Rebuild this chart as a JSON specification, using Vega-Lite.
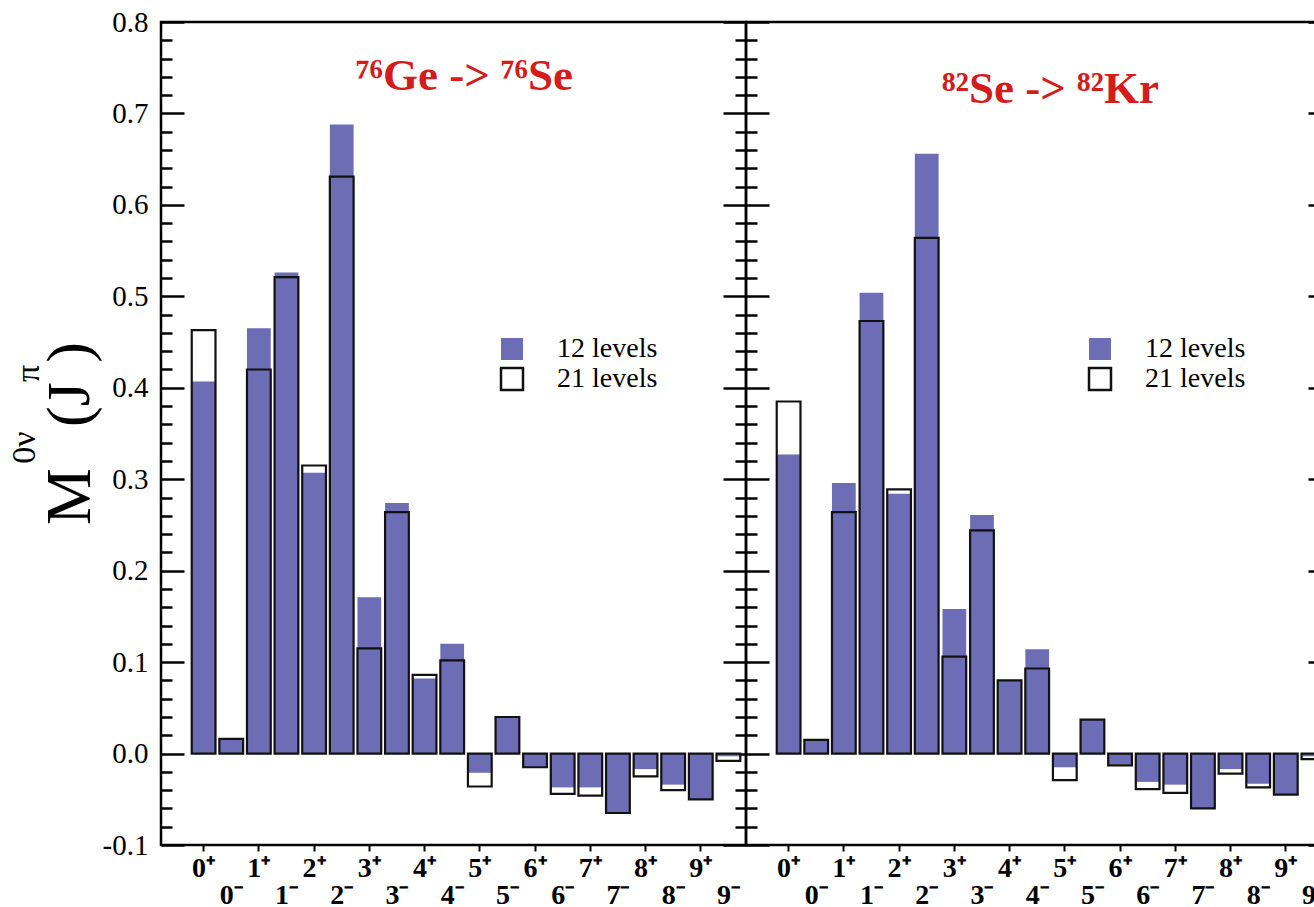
{
  "$schema": "https://vega.github.io/schema/vega-lite/v6.json",
  "background": "white",
  "padding": {"left": 5, "top": 6, "right": 0, "bottom": 0},
  "datasets": {
    "ge": [
      {"s":"0+","lv":"12 levels","v":0.407},{"s":"0-","lv":"12 levels","v":0.016},{"s":"1+","lv":"12 levels","v":0.465},{"s":"1-","lv":"12 levels","v":0.526},
      {"s":"2+","lv":"12 levels","v":0.307},{"s":"2-","lv":"12 levels","v":0.688},{"s":"3+","lv":"12 levels","v":0.171},{"s":"3-","lv":"12 levels","v":0.274},
      {"s":"4+","lv":"12 levels","v":0.082},{"s":"4-","lv":"12 levels","v":0.120},{"s":"5+","lv":"12 levels","v":-0.021},{"s":"5-","lv":"12 levels","v":0.040},
      {"s":"6+","lv":"12 levels","v":-0.015},{"s":"6-","lv":"12 levels","v":-0.037},{"s":"7+","lv":"12 levels","v":-0.037},{"s":"7-","lv":"12 levels","v":-0.065},
      {"s":"8+","lv":"12 levels","v":-0.017},{"s":"8-","lv":"12 levels","v":-0.034},{"s":"9+","lv":"12 levels","v":-0.050},{"s":"9-","lv":"12 levels","v":-0.003},
      {"s":"0+","lv":"21 levels","v":0.463},{"s":"0-","lv":"21 levels","v":0.016},{"s":"1+","lv":"21 levels","v":0.420},{"s":"1-","lv":"21 levels","v":0.521},
      {"s":"2+","lv":"21 levels","v":0.315},{"s":"2-","lv":"21 levels","v":0.631},{"s":"3+","lv":"21 levels","v":0.115},{"s":"3-","lv":"21 levels","v":0.264},
      {"s":"4+","lv":"21 levels","v":0.086},{"s":"4-","lv":"21 levels","v":0.102},{"s":"5+","lv":"21 levels","v":-0.036},{"s":"5-","lv":"21 levels","v":0.040},
      {"s":"6+","lv":"21 levels","v":-0.015},{"s":"6-","lv":"21 levels","v":-0.044},{"s":"7+","lv":"21 levels","v":-0.046},{"s":"7-","lv":"21 levels","v":-0.065},
      {"s":"8+","lv":"21 levels","v":-0.025},{"s":"8-","lv":"21 levels","v":-0.040},{"s":"9+","lv":"21 levels","v":-0.050},{"s":"9-","lv":"21 levels","v":-0.008}
    ],
    "se": [
      {"s":"0+","lv":"12 levels","v":0.327},{"s":"0-","lv":"12 levels","v":0.015},{"s":"1+","lv":"12 levels","v":0.296},{"s":"1-","lv":"12 levels","v":0.504},
      {"s":"2+","lv":"12 levels","v":0.284},{"s":"2-","lv":"12 levels","v":0.656},{"s":"3+","lv":"12 levels","v":0.158},{"s":"3-","lv":"12 levels","v":0.261},
      {"s":"4+","lv":"12 levels","v":0.080},{"s":"4-","lv":"12 levels","v":0.114},{"s":"5+","lv":"12 levels","v":-0.015},{"s":"5-","lv":"12 levels","v":0.037},
      {"s":"6+","lv":"12 levels","v":-0.012},{"s":"6-","lv":"12 levels","v":-0.031},{"s":"7+","lv":"12 levels","v":-0.034},{"s":"7-","lv":"12 levels","v":-0.060},
      {"s":"8+","lv":"12 levels","v":-0.017},{"s":"8-","lv":"12 levels","v":-0.033},{"s":"9+","lv":"12 levels","v":-0.045},{"s":"9-","lv":"12 levels","v":-0.003},
      {"s":"0+","lv":"21 levels","v":0.385},{"s":"0-","lv":"21 levels","v":0.015},{"s":"1+","lv":"21 levels","v":0.264},{"s":"1-","lv":"21 levels","v":0.473},
      {"s":"2+","lv":"21 levels","v":0.289},{"s":"2-","lv":"21 levels","v":0.564},{"s":"3+","lv":"21 levels","v":0.106},{"s":"3-","lv":"21 levels","v":0.244},
      {"s":"4+","lv":"21 levels","v":0.080},{"s":"4-","lv":"21 levels","v":0.093},{"s":"5+","lv":"21 levels","v":-0.029},{"s":"5-","lv":"21 levels","v":0.037},
      {"s":"6+","lv":"21 levels","v":-0.013},{"s":"6-","lv":"21 levels","v":-0.039},{"s":"7+","lv":"21 levels","v":-0.043},{"s":"7-","lv":"21 levels","v":-0.060},
      {"s":"8+","lv":"21 levels","v":-0.022},{"s":"8-","lv":"21 levels","v":-0.037},{"s":"9+","lv":"21 levels","v":-0.045},{"s":"9-","lv":"21 levels","v":-0.006}
    ]
  },
  "spacing": 0,
  "bounds": "flush",
  "resolve": {"scale": {"fill": "independent", "stroke": "independent"}},
  "hconcat": [
    {
      "data": {"name": "ge"},
      "width": 585,
      "height": 823,
      "title": {"text": "⁷⁶Ge -> ⁷⁶Se", "font": "Liberation Serif", "fontSize": 45, "fontWeight": "bold", "color": "#d41c1c", "anchor": "middle", "frame": "group", "offset": -127, "baseline": "alphabetic", "dx": 11},
      "resolve": {"axis": {"y": "independent", "x": "independent"}},
      "layer": [
        {
          "mark": {"type": "bar", "strokeWidth": 2.2},
          "encoding": {
            "x": {"field": "s", "type": "nominal", "sort": null,
              "scale": {"domain": ["0+","0-","1+","1-","2+","2-","3+","3-","4+","4-","5+","5-","6+","6-","7+","7-","8+","8-","9+","9-"], "paddingInner": 0.14, "paddingOuter": 0.66, "align": 0.843},
              "axis": {"orient": "bottom", "title": null, "domain": false, "ticks": false, "labelExpr": "indexof(datum.value,'+')>=0 ? replace(datum.value,'+','⁺') : ['', replace(datum.value,'-','⁻')]", "labelFont": "Liberation Serif", "labelFontSize": 28, "labelFontWeight": "bold", "labelColor": "#000", "labelAngle": 0, "labelBaseline": "top", "labelAlign": "center", "labelLineHeight": 27, "labelPadding": 9, "labelOverlap": false, "labelFlush": false, "labelBound": false}},
            "y": {"field": "v", "type": "quantitative", "stack": null,
              "scale": {"domain": [-0.1, 0.8], "nice": false},
              "axis": {"orient": "left", "values": [-0.1,-0.08,-0.06,-0.04,-0.02,0,0.02,0.04,0.06,0.08,0.1,0.12,0.14,0.16,0.18,0.2,0.22,0.24,0.26,0.28,0.3,0.32,0.34,0.36,0.38,0.4,0.42,0.44,0.46,0.48,0.5,0.52,0.54,0.56,0.58,0.6,0.62,0.64,0.66,0.68,0.7,0.72,0.74,0.76,0.78,0.8],
                "labelExpr": "abs(datum.value*10-round(datum.value*10))<0.01 ? replace(format(datum.value,'.1f'),'−','-') : ''",
                "tickSize": {"condition": {"test": "abs(datum.value*10-round(datum.value*10))<0.01", "value": -23}, "value": -11},
                "tickWidth": 2.5, "tickColor": "#000", "domain": false, "grid": false,
                "labelFont": "Liberation Serif", "labelFontSize": 29, "labelColor": "#000", "labelPadding": 36, "labelOverlap": false, "labelFlush": false, "labelBound": false,
                "title": "M", "titleFont": "Liberation Serif", "titleFontSize": 64, "titleFontWeight": "normal", "titleColor": "#000", "titleAngle": -90, "titleAlign": "center", "titleBaseline": "alphabetic", "titleX": -72, "titleY": 474}},
            "fill": {"field": "lv", "type": "nominal", "scale": {"domain": ["12 levels", "21 levels"], "range": ["#6d6db5", "transparent"]},
              "legend": {"orient": "none", "legendX": 337, "legendY": 313, "title": null, "symbolType": "square", "symbolSize": 484, "symbolStrokeWidth": 2.5, "labelFont": "Liberation Serif", "labelFontSize": 28, "labelColor": "#000", "labelOffset": 31, "rowPadding": -6, "padding": 0}},
            "stroke": {"field": "lv", "type": "nominal", "scale": {"domain": ["12 levels", "21 levels"], "range": ["transparent", "#111111"]},
              "legend": {"orient": "none", "legendX": 337, "legendY": 313, "title": null, "symbolType": "square", "symbolSize": 484, "symbolStrokeWidth": 2.5, "labelFont": "Liberation Serif", "labelFontSize": 28, "labelColor": "#000", "labelOffset": 31, "rowPadding": -6, "padding": 0}}
          }
        },
        {
          "mark": {"type": "bar", "opacity": 0},
          "encoding": {
            "x": {"field": "s", "type": "nominal", "sort": null,
              "axis": {"orient": "bottom", "title": null, "domain": false, "labels": false, "ticks": true, "tickSize": 6, "tickWidth": 2, "tickColor": "#000", "values": ["0+","1+","2+","3+","4+","5+","6+","7+","8+","9+"]}},
            "y": {"field": "v", "type": "quantitative", "stack": null,
              "axis": {"orient": "right", "values": [-0.1,-0.08,-0.06,-0.04,-0.02,0,0.02,0.04,0.06,0.08,0.1,0.12,0.14,0.16,0.18,0.2,0.22,0.24,0.26,0.28,0.3,0.32,0.34,0.36,0.38,0.4,0.42,0.44,0.46,0.48,0.5,0.52,0.54,0.56,0.58,0.6,0.62,0.64,0.66,0.68,0.7,0.72,0.74,0.76,0.78,0.8],
                "labels": false, "tickSize": {"condition": {"test": "abs(datum.value*10-round(datum.value*10))<0.01", "value": -23}, "value": -11},
                "tickWidth": 2.5, "tickColor": "#000", "domain": false, "grid": false, "title": null}}
          }
        },
        {
          "mark": {"type": "bar", "opacity": 0},
          "encoding": {
            "x": {"field": "s", "type": "nominal", "sort": null, "axis": null},
            "y": {"field": "v", "type": "quantitative", "stack": null,
              "axis": {"orient": "left", "labels": false, "ticks": false, "domain": false, "grid": false, "title": "0ν", "titleFont": "Liberation Serif", "titleFontSize": 34, "titleFontWeight": "normal", "titleColor": "#000", "titleAngle": -90, "titleAlign": "center", "titleBaseline": "alphabetic", "titleX": -127, "titleY": 425}}
          }
        },
        {
          "mark": {"type": "bar", "opacity": 0},
          "encoding": {
            "x": {"field": "s", "type": "nominal", "sort": null, "axis": null},
            "y": {"field": "v", "type": "quantitative", "stack": null,
              "axis": {"orient": "left", "labels": false, "ticks": false, "domain": false, "grid": false, "title": "(J", "titleFont": "Liberation Serif", "titleFontSize": 62, "titleFontWeight": "normal", "titleColor": "#000", "titleAngle": -90, "titleAlign": "center", "titleBaseline": "alphabetic", "titleX": -73, "titleY": 382}}
          }
        },
        {
          "mark": {"type": "bar", "opacity": 0},
          "encoding": {
            "x": {"field": "s", "type": "nominal", "sort": null, "axis": null},
            "y": {"field": "v", "type": "quantitative", "stack": null,
              "axis": {"orient": "left", "labels": false, "ticks": false, "domain": false, "grid": false, "title": "π", "titleFont": "Liberation Serif", "titleFontSize": 34, "titleFontWeight": "normal", "titleColor": "#000", "titleAngle": -90, "titleAlign": "center", "titleBaseline": "alphabetic", "titleX": -123, "titleY": 351}}
          }
        },
        {
          "mark": {"type": "bar", "opacity": 0},
          "encoding": {
            "x": {"field": "s", "type": "nominal", "sort": null, "axis": null},
            "y": {"field": "v", "type": "quantitative", "stack": null,
              "axis": {"orient": "left", "labels": false, "ticks": false, "domain": false, "grid": false, "title": ")", "titleFont": "Liberation Serif", "titleFontSize": 62, "titleFontWeight": "normal", "titleColor": "#000", "titleAngle": -90, "titleAlign": "center", "titleBaseline": "alphabetic", "titleX": -73, "titleY": 330}}
          }
        }
      ]
    },
    {
      "data": {"name": "se"},
      "width": 585,
      "height": 823,
      "title": {"text": "⁸²Se -> ⁸²Kr", "font": "Liberation Serif", "fontSize": 45, "fontWeight": "bold", "color": "#d41c1c", "anchor": "middle", "frame": "group", "offset": -127, "baseline": "alphabetic", "dx": 12},
      "resolve": {"axis": {"y": "independent", "x": "independent"}},
      "layer": [
        {
          "mark": {"type": "bar", "strokeWidth": 2.2},
          "encoding": {
            "x": {"field": "s", "type": "nominal", "sort": null,
              "scale": {"domain": ["0+","0-","1+","1-","2+","2-","3+","3-","4+","4-","5+","5-","6+","6-","7+","7-","8+","8-","9+","9-"], "paddingInner": 0.14, "paddingOuter": 0.66, "align": 0.843},
              "axis": {"orient": "bottom", "title": null, "domain": false, "ticks": false, "labelExpr": "indexof(datum.value,'+')>=0 ? replace(datum.value,'+','⁺') : ['', replace(datum.value,'-','⁻')]", "labelFont": "Liberation Serif", "labelFontSize": 28, "labelFontWeight": "bold", "labelColor": "#000", "labelAngle": 0, "labelBaseline": "top", "labelAlign": "center", "labelLineHeight": 27, "labelPadding": 9, "labelOverlap": false, "labelFlush": false, "labelBound": false}},
            "y": {"field": "v", "type": "quantitative", "stack": null,
              "scale": {"domain": [-0.1, 0.8], "nice": false},
              "axis": {"orient": "left", "values": [-0.1,-0.08,-0.06,-0.04,-0.02,0,0.02,0.04,0.06,0.08,0.1,0.12,0.14,0.16,0.18,0.2,0.22,0.24,0.26,0.28,0.3,0.32,0.34,0.36,0.38,0.4,0.42,0.44,0.46,0.48,0.5,0.52,0.54,0.56,0.58,0.6,0.62,0.64,0.66,0.68,0.7,0.72,0.74,0.76,0.78,0.8],
                "labels": false, "tickSize": {"condition": {"test": "abs(datum.value*10-round(datum.value*10))<0.01", "value": -23}, "value": -11},
                "tickWidth": 2.5, "tickColor": "#000", "domain": false, "grid": false, "title": null}},
            "fill": {"field": "lv", "type": "nominal", "scale": {"domain": ["12 levels", "21 levels"], "range": ["#6d6db5", "transparent"]},
              "legend": {"orient": "none", "legendX": 340, "legendY": 313, "title": null, "symbolType": "square", "symbolSize": 484, "symbolStrokeWidth": 2.5, "labelFont": "Liberation Serif", "labelFontSize": 28, "labelColor": "#000", "labelOffset": 31, "rowPadding": -6, "padding": 0}},
            "stroke": {"field": "lv", "type": "nominal", "scale": {"domain": ["12 levels", "21 levels"], "range": ["transparent", "#111111"]},
              "legend": {"orient": "none", "legendX": 340, "legendY": 313, "title": null, "symbolType": "square", "symbolSize": 484, "symbolStrokeWidth": 2.5, "labelFont": "Liberation Serif", "labelFontSize": 28, "labelColor": "#000", "labelOffset": 31, "rowPadding": -6, "padding": 0}}
          }
        },
        {
          "mark": {"type": "bar", "opacity": 0},
          "encoding": {
            "x": {"field": "s", "type": "nominal", "sort": null,
              "axis": {"orient": "bottom", "title": null, "domain": false, "labels": false, "ticks": true, "tickSize": 6, "tickWidth": 2, "tickColor": "#000", "values": ["0+","1+","2+","3+","4+","5+","6+","7+","8+","9+"]}},
            "y": {"field": "v", "type": "quantitative", "stack": null,
              "axis": {"orient": "right", "values": [-0.1,-0.08,-0.06,-0.04,-0.02,0,0.02,0.04,0.06,0.08,0.1,0.12,0.14,0.16,0.18,0.2,0.22,0.24,0.26,0.28,0.3,0.32,0.34,0.36,0.38,0.4,0.42,0.44,0.46,0.48,0.5,0.52,0.54,0.56,0.58,0.6,0.62,0.64,0.66,0.68,0.7,0.72,0.74,0.76,0.78,0.8],
                "labels": false, "tickSize": {"condition": {"test": "abs(datum.value*10-round(datum.value*10))<0.01", "value": -23}, "value": -11},
                "tickWidth": 2.5, "tickColor": "#000", "domain": false, "grid": false, "title": null}}
          }
        }
      ]
    }
  ],
  "config": {
    "view": {"stroke": "#000", "strokeWidth": 2.5},
    "font": "Liberation Serif",
    "axis": {"grid": false}
  }
}
